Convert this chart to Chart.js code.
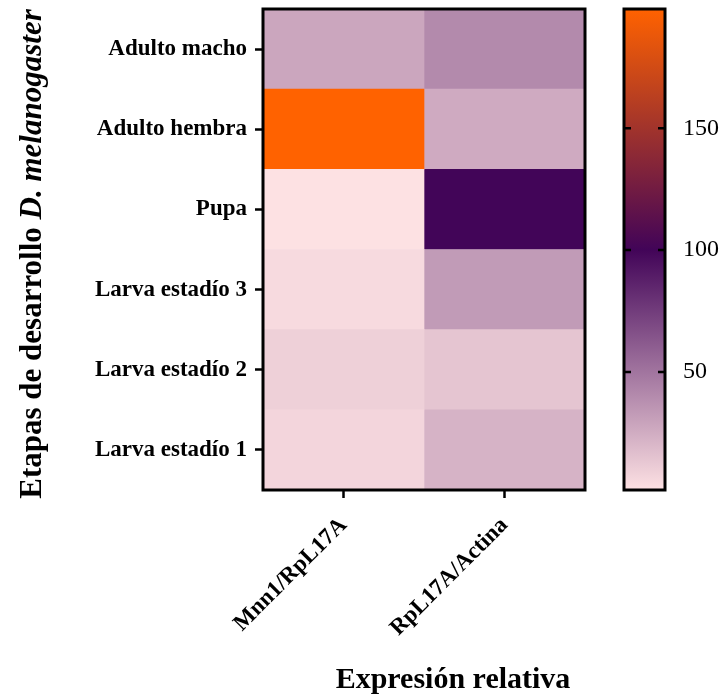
<!DOCTYPE html>
<html>
<head>
<meta charset="utf-8">
<script src="https://cdn.jsdelivr.net/npm/chart.js@4/dist/chart.umd.min.js"></script>
<style>
  html, body { margin: 0; padding: 0; background: #ffffff; }
  #wrap { position: relative; width: 720px; height: 696px; overflow: hidden; }
  #heat { position: absolute; left: 0; top: 0; }
  #scale { position: absolute; left: 600px; top: 0; }
</style>
</head>
<body>
<div id="wrap">
  <canvas id="heat" width="720" height="696"></canvas>
  <canvas id="scale" width="120" height="696"></canvas>
</div>
<script>
// Developmental stages (rows, top to bottom) and expression ratios (columns)
const stages = ['Adulto macho', 'Adulto hembra', 'Pupa', 'Larva estadío 3', 'Larva estadío 2', 'Larva estadío 1'];
const ratios = ['Mnn1/RpL17A', 'RpL17A/Actina'];

// Relative expression per stage, one array per ratio (same order as stages)
const mnn1RpL17A   = [28, 199, 1.5, 4.5, 9.3, 6.8];
const rpL17AActina = [40.5, 26, 100, 33, 14, 22];

// Colour-scale tick values
const scaleTicks = [50, 100, 150];

const columns = [mnn1RpL17A, rpL17AActina];
const allValues = mnn1RpL17A.concat(rpL17AActina);
const vMin = Math.min(...allValues);
const vMax = Math.max(...allValues);

// Pale pink -> deep purple -> orange
const gradientStops = [
  [0.0, [253, 225, 227]],
  [0.5, [66, 4, 88]],
  [1.0, [255, 98, 0]]
];

function colorFor(v) {
  const t = Math.max(0, Math.min(1, (v - vMin) / (vMax - vMin)));
  for (let i = 1; i < gradientStops.length; i++) {
    const [t1, c1] = gradientStops[i];
    const [t0, c0] = gradientStops[i - 1];
    if (t <= t1) {
      const f = (t - t0) / (t1 - t0);
      const c = c0.map((a, k) => Math.round(a + (c1[k] - a) * f));
      return `rgb(${c[0]},${c[1]},${c[2]})`;
    }
  }
  const c = gradientStops[gradientStops.length - 1][1];
  return `rgb(${c[0]},${c[1]},${c[2]})`;
}

const SERIF = '"Liberation Serif", "Times New Roman", serif';
Chart.defaults.color = '#000000';
Chart.defaults.font.family = SERIF;

// Scales should not push the plotting area inwards for their end labels
function noEdgePadding(s) {
  s.paddingTop = 0; s.paddingBottom = 0; s.paddingLeft = 0; s.paddingRight = 0;
}

// Frame around the plotting area plus the two axis titles
const heatDecor = {
  id: 'heatDecor',
  afterDatasetsDraw(chart) {
    const { ctx, chartArea: a } = chart;
    ctx.save();
    ctx.strokeStyle = '#000';
    ctx.lineWidth = 3;
    ctx.strokeRect(a.left, a.top, a.right - a.left, a.bottom - a.top);
    ctx.restore();
  },
  afterDraw(chart) {
    const { ctx } = chart;
    ctx.save();
    ctx.fillStyle = '#000';
    ctx.textBaseline = 'middle';

    // Vertical title with italic species name
    const partA = 'Etapas de desarrollo ';
    const partB = 'D. melanogaster';
    const fontA = `bold 31px ${SERIF}`;
    const fontB = `italic bold 31px ${SERIF}`;
    ctx.font = fontA;
    const wA = ctx.measureText(partA).width;
    ctx.font = fontB;
    const wB = ctx.measureText(partB).width;
    ctx.translate(33, 254);
    ctx.rotate(-Math.PI / 2);
    ctx.textAlign = 'left';
    ctx.font = fontA;
    ctx.fillText(partA, -(wA + wB) / 2, 0);
    ctx.font = fontB;
    ctx.fillText(partB, -(wA + wB) / 2 + wA, 0);
    ctx.restore();

    ctx.save();
    ctx.fillStyle = '#000';
    ctx.textAlign = 'center';
    ctx.textBaseline = 'middle';
    ctx.font = `bold 30px ${SERIF}`;
    ctx.fillText('Expresión relativa', 453, 680);
    ctx.restore();
  }
};

new Chart(document.getElementById('heat'), {
  type: 'bar',
  data: {
    labels: stages,
    datasets: ratios.map((name, ci) => ({
      label: name,
      data: stages.map((s, ri) => ({ y: s, x: [ci, ci + 1], v: columns[ci][ri] })),
      backgroundColor: (c) => colorFor(c.raw ? c.raw.v : vMin),
      borderWidth: 0,
      grouped: false,
      barPercentage: 1,
      categoryPercentage: 1
    }))
  },
  options: {
    indexAxis: 'y',
    responsive: false,
    animation: false,
    devicePixelRatio: 1,
    layout: { padding: { left: 0, top: 9, right: 135, bottom: 0 } },
    plugins: { legend: { display: false }, tooltip: { enabled: false } },
    scales: {
      y: {
        type: 'category',
        afterFit(s) { s.width = 263; noEdgePadding(s); },
        border: { display: false },
        grid: { display: true, drawOnChartArea: false, offset: false, drawTicks: true, tickLength: 8, tickWidth: 2.5, tickColor: '#000' },
        ticks: { font: { family: SERIF, size: 23, weight: 'bold' }, color: '#000', padding: 8 }
      },
      x: {
        type: 'linear',
        min: 0,
        max: 2,
        afterFit(s) { s.height = 206; noEdgePadding(s); },
        afterBuildTicks(s) { s.ticks = ratios.map((r, i) => ({ value: i + 0.5 })); },
        border: { display: false },
        grid: { display: true, drawOnChartArea: false, drawTicks: true, tickLength: 8, tickWidth: 2.5, tickColor: '#000' },
        ticks: {
          font: { family: SERIF, size: 23, weight: 'bold' },
          color: '#000',
          minRotation: 45,
          maxRotation: 45,
          padding: 14,
          callback: (v, i) => ratios[i]
        }
      }
    }
  },
  plugins: [heatDecor]
});

// Colour bar: frame and inward tick marks on both sides
const scaleDecor = {
  id: 'scaleDecor',
  afterDatasetsDraw(chart) {
    const { ctx, chartArea: a } = chart;
    const ys = chart.scales.y;
    ctx.save();
    ctx.strokeStyle = '#000';
    ctx.lineWidth = 3;
    ctx.strokeRect(a.left, a.top, a.right - a.left, a.bottom - a.top);
    ctx.lineWidth = 2.5;
    scaleTicks.forEach(t => {
      const y = ys.getPixelForValue(t);
      ctx.beginPath();
      ctx.moveTo(a.left, y); ctx.lineTo(a.left + 7, y);
      ctx.moveTo(a.right, y); ctx.lineTo(a.right - 7, y);
      ctx.stroke();
    });
    ctx.restore();
  }
};

new Chart(document.getElementById('scale'), {
  type: 'bar',
  data: {
    labels: [''],
    datasets: [{
      data: [[vMin, vMax]],
      backgroundColor: (c) => {
        const chart = c.chart;
        const a = chart.chartArea;
        if (!a) return null;
        const ys = chart.scales.y;
        const g = chart.ctx.createLinearGradient(0, ys.getPixelForValue(vMin), 0, ys.getPixelForValue(vMax));
        gradientStops.forEach(([t, col]) => g.addColorStop(t, `rgb(${col[0]},${col[1]},${col[2]})`));
        return g;
      },
      borderWidth: 0,
      barPercentage: 1,
      categoryPercentage: 1
    }]
  },
  options: {
    responsive: false,
    animation: false,
    devicePixelRatio: 1,
    layout: { padding: { left: 24, top: 9, right: 0, bottom: 206 } },
    plugins: { legend: { display: false }, tooltip: { enabled: false } },
    scales: {
      x: { display: false },
      y: {
        type: 'linear',
        position: 'right',
        min: vMin,
        max: vMax,
        afterFit(s) { s.width = 55; noEdgePadding(s); },
        afterBuildTicks(s) { s.ticks = scaleTicks.map(v => ({ value: v })); },
        border: { display: false },
        grid: { display: false, drawTicks: false },
        ticks: { font: { family: SERIF, size: 24 }, color: '#000', padding: 18 }
      }
    }
  },
  plugins: [scaleDecor]
});
</script>
</body>
</html>
